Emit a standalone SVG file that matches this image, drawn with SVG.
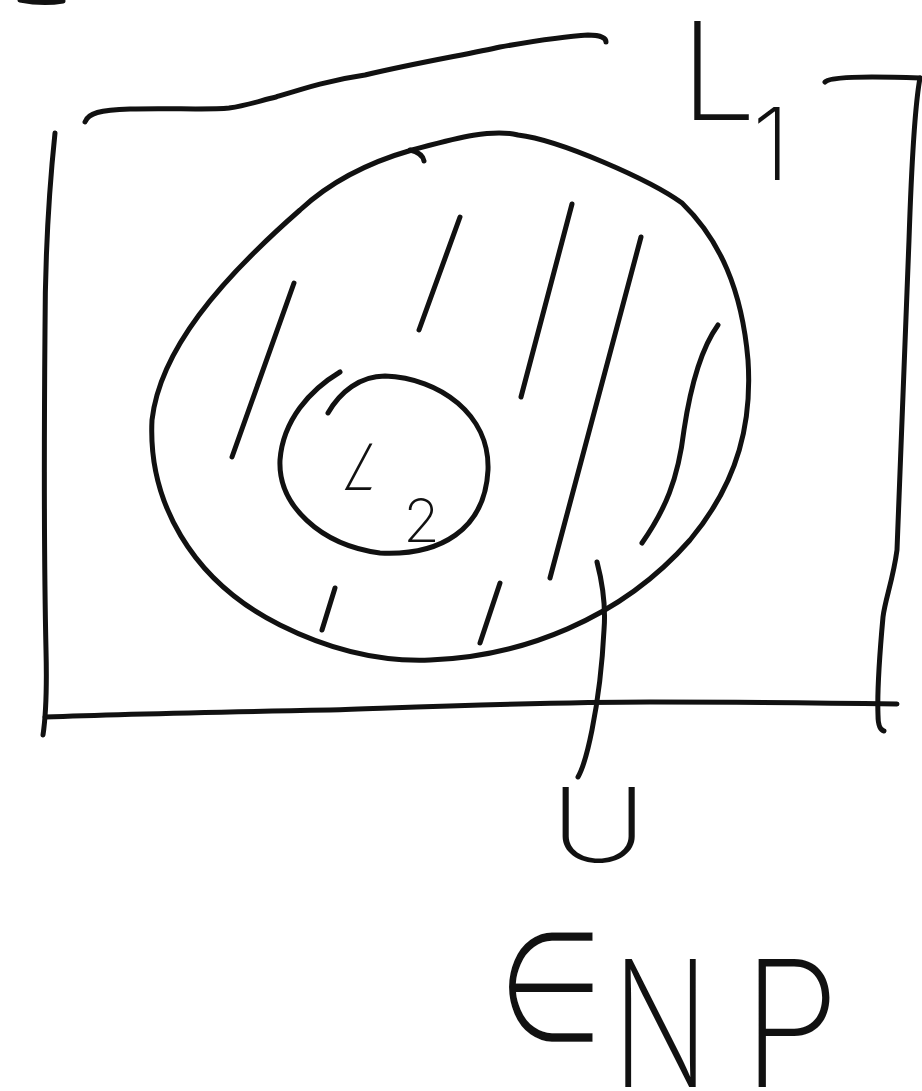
<svg xmlns="http://www.w3.org/2000/svg" width="922" height="1091" viewBox="0 0 922 1091">
<style>
.s{fill:none;stroke:#111;stroke-width:5;stroke-linecap:round;stroke-linejoin:round}
.t{font-family:Inter,"Liberation Sans","DejaVu Sans",sans-serif;font-weight:200;fill:#111}
.m{font-family:"DejaVu Sans","Noto Sans",sans-serif;font-weight:200;fill:#111;stroke:#fff;stroke-width:2.5}
</style>
<rect width="922" height="1091" fill="#fff"/>
<g id="labels">
<text class="t" x="680" y="120" font-size="136">L</text>
<text class="t" x="752" y="180" font-size="100">1</text>
<text class="t" transform="translate(338,490) skewX(-28)" font-size="64" font-weight="300">L</text>
<text class="t" x="403" y="542" font-size="60" font-weight="300">2</text>
<text class="t" transform="translate(550,862) scale(1.3,1)" font-size="103">U</text>
<text class="m" transform="translate(497,1042) scale(1.18,1.5)" font-size="105">∈</text>
<text class="t" transform="translate(612,1087) scale(0.72,1)" font-size="176">N</text>
<text class="t" transform="translate(742,1087) scale(0.9,1)" font-size="176">P</text>
</g>
<g id="frame">
<path class="s" d="M20,0 C35,3 52,3 63,1" stroke-width="7"/>
<path class="s" d="M85,122 C88,113 100,110 130,109 C170,108 210,110 229,108 C250,105 262,100 276,97 C305,88 330,80 365,75 C420,62 470,54 500,47 C540,40 570,36 588,35 C600,35 606,38 606,42"/>
<path class="s" d="M55,133 C48,200 45,260 45,330 C44,450 44,560 46,650 C47,690 46,715 43,735"/>
<path class="s" d="M45,717 C120,714 220,712 330,710 C450,706 550,702 650,702 C760,702 840,703 897,704"/>
<path class="s" d="M825,82 C830,77 860,76 920,78"/>
<path class="s" d="M920,78 C914,110 911,180 909,240 C905,360 900,480 897,550 C893,580 885,600 883,617 C880,650 877,690 878,715 C878,725 880,730 884,731"/>
</g>
<g id="set-L1">
<path class="s" d="M412,150 C370,162 330,182 300,210 C220,280 160,350 152,420 C148,500 190,580 280,625 C330,650 380,662 430,660 C520,657 620,620 690,540 C740,480 752,420 748,360 C742,290 720,240 682,203 C650,180 560,140 518,135 C490,128 450,140 412,150"/>
<path class="s" d="M410,150 C418,152 423,155 424,161"/>
</g>
<g id="hatching">
<path class="s" d="M460,217 L419,330"/>
<path class="s" d="M572,204 L521,397"/>
<path class="s" d="M641,237 L550,578"/>
<path class="s" d="M294,283 L232,457"/>
<path class="s" d="M718,325 C700,350 690,390 684,430 C678,480 665,510 642,543"/>
<path class="s" d="M335,588 L322,630"/>
<path class="s" d="M500,583 L480,643"/>
</g>
<g id="set-L2">
<path class="s" d="M340,372 C310,390 283,420 280,460 C278,505 320,545 380,553 C440,556 485,530 488,470 C490,415 440,378 385,376 C360,376 340,392 328,413"/>
</g>
<g id="connectors">
<path class="s" d="M597,562 C603,585 606,605 604,630 C602,670 598,700 592,730 C587,755 582,770 578,777"/>
</g>
</svg>
